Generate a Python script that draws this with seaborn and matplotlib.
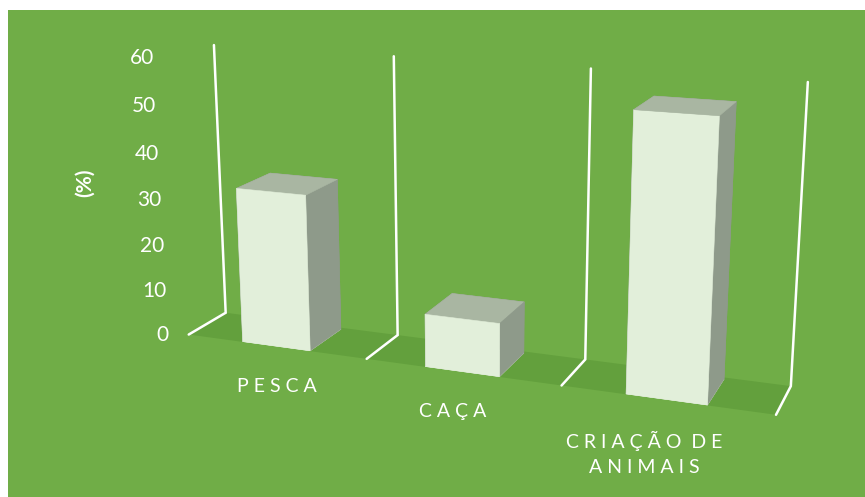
import matplotlib
matplotlib.use("Agg")
import numpy as np
import pandas as pd
import seaborn as sns
import matplotlib.pyplot as plt
from matplotlib.patches import Rectangle
from mpl_toolkits.mplot3d.art3d import Poly3DCollection

# Data
categorias = ["PESCA", "CAÇA", "CRIAÇÃO DE\nANIMAIS"]
percentuais = [33.3, 11.1, 55.6]
ticks_y = [0, 10, 20, 30, 40, 50, 60]
rotulo_y = "(%)"

sns.set_theme(style="white")
plt.rcParams["font.family"] = ["Lato", "DejaVu Sans"]

df = pd.DataFrame({"atividade": categorias, "pct": percentuais})

# Colours
fundo = "#70AD47"
piso = "#63A03D"
frente, lado = sns.blend_palette(["#E2EFDA", "#8E9A8A"], 2)
topo = "#A9B6A2"

largura = 0.38      # bar width along categories
prof_piso = 0.42    # floor depth
prof_barra = 0.39   # bar depth
y0 = 0.005
zmax = ticks_y[-1]


def espacar(texto):
    # spread letters apart, as in the category labels
    linhas = []
    for linha in texto.split("\n"):
        linhas.append(" ".join("" if c == " " else c for c in linha))
    return "\n".join(linhas)


fig = plt.figure(figsize=(8.65, 4.97), dpi=100, facecolor=fundo)
# white frame strips along the top and left edges
fig.patches.append(Rectangle((0, 487 / 497), 1, 10 / 497, transform=fig.transFigure,
                             facecolor="white", edgecolor="none", zorder=-5))
fig.patches.append(Rectangle((0, 0), 8 / 865, 1, transform=fig.transFigure,
                             facecolor="white", edgecolor="none", zorder=-5))

ax = fig.add_axes([0.1005, -0.2199, 0.8757, 1.5238], projection="3d", computed_zorder=False)
ax.set_facecolor("none")
ax.set_proj_type("persp", focal_length=0.38)
ax.view_init(elev=15, azim=-69)

n = len(df)
xs = np.arange(n)

# Floor
ax.add_collection3d(Poly3DCollection(
    [[(-0.5, 0, 0), (n - 0.5, 0, 0), (n - 0.5, prof_piso, 0), (-0.5, prof_piso, 0)]],
    facecolor=piso, edgecolor="none", zorder=1), autolim=False)

# Category gridlines: along the floor, then up the back wall
for xb in [-0.5 + k for k in range(n + 1)]:
    ax.plot([xb, xb, xb], [0, prof_piso, prof_piso], [0, 0, zmax],
            color="white", lw=1.8, zorder=2, solid_joinstyle="miter")

# Bars (faces: bottom, top, front, back, left, right)
cores = []
for _ in range(n):
    cores += [frente, topo, frente, lado, lado, lado]
ax.bar3d(xs - largura / 2, np.full(n, y0), np.zeros(n),
         largura, prof_barra, df["pct"].to_numpy(),
         color=cores, shade=False, edgecolor=cores, linewidth=0.4, zorder=3)

ax.autoscale(enable=False)
ax.set_xlim(-0.5, n - 0.5)
ax.set_ylim(0, prof_piso)
ax.set_zlim(0, zmax)
ax.set_box_aspect((680, 85, 325), zoom=0.9)
ax.set_axis_off()

# Value axis labels
for v in ticks_y:
    ax.text(-0.62, 0, v - 0.8, str(v), ha="right", va="center", color="white",
            fontsize=15, zorder=5)

# Category labels, below the front of each bar
for x, c in zip(xs, df["atividade"]):
    ax.text(x - 0.05 * x, y0, -7, espacar(c), ha="center", va="top",
            color="white", fontsize=14, linespacing=1.62, zorder=5)

fig.text(85 / 865, 1 - 183 / 497, rotulo_y, rotation=90, ha="center", va="center",
         color="white", fontsize=15, fontweight="bold")

fig.savefig("out.png", dpi=100, facecolor=fundo)
